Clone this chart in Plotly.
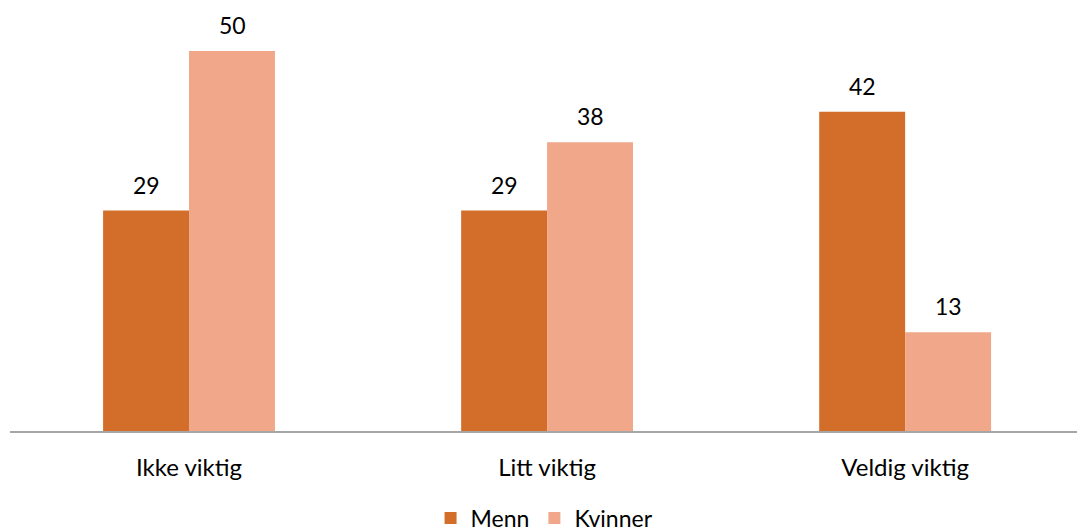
import plotly.graph_objects as go

categories = ["Ikke viktig", "Litt viktig", "Veldig viktig"]
menn = [29, 29, 42]
kvinner = [50, 38, 13]
series_names = ["Menn", "Kvinner"]
colors = ["#D36E2A", "#F1A78A"]

FONT = "Lato"

fig = go.Figure()
for name, vals, col in zip(series_names, [menn, kvinner], colors):
    fig.add_trace(go.Bar(x=categories, y=vals, name=name, marker=dict(color=col, line=dict(width=0))))

# data labels
for vals, shift in [(menn, -43), (kvinner, 43)]:
    for c, v in zip(categories, vals):
        fig.add_annotation(x=c, y=v, text=str(v), showarrow=False, xshift=shift, yshift=26,
                           yanchor="middle", font=dict(family=FONT, size=23, color="#000000"))

fig.update_layout(
    width=1077, height=531,
    margin=dict(l=10, r=0, t=13, b=100, autoexpand=False),
    paper_bgcolor="white", plot_bgcolor="white",
    barmode="group", bargap=0.52, bargroupgap=0,
    font=dict(family=FONT, size=23, color="#000000"),
    legend=dict(orientation="h", x=0.501, xanchor="center", y=-0.157, yanchor="top",
                font=dict(family=FONT, size=23, color="#000000"), itemwidth=30,
                traceorder="normal"),
    showlegend=True,
)
fig.update_xaxes(type="category", range=[-0.5, 2.48], showline=True, linecolor="#A6A6A6", linewidth=2,
                 showgrid=False, ticks="", ticklabelstandoff=14, automargin=False,
                 tickfont=dict(family=FONT, size=24))
fig.update_yaxes(range=[0, 55], showgrid=False, showticklabels=False, zeroline=False, showline=False,
                 automargin=False)

fig.write_html("out.html", config={"displayModeBar": False},
               post_script="document.body.style.margin='0px';")
